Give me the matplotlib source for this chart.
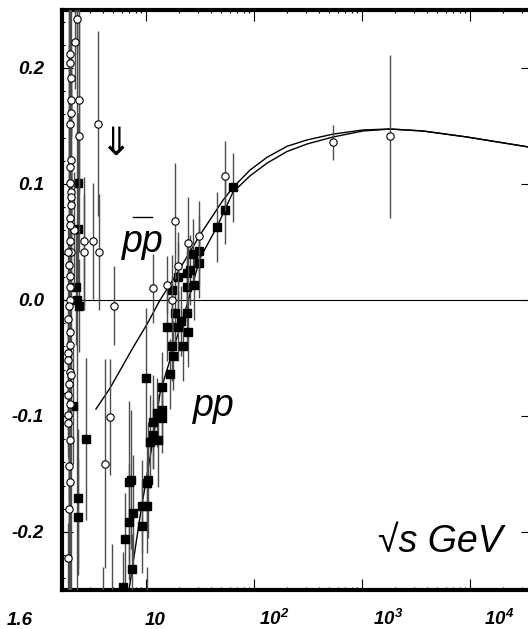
import numpy as np
import matplotlib.pyplot as plt
from matplotlib.ticker import MultipleLocator, LogLocator, NullFormatter
import matplotlib.transforms as mtransforms

plt.rcParams['font.family'] = ['Liberation Sans', 'DejaVu Sans']
plt.rcParams['mathtext.fontset'] = 'custom'
plt.rcParams['mathtext.rm'] = 'Liberation Sans:bold:italic'
plt.rcParams['mathtext.it'] = 'Liberation Sans:bold:italic'
plt.rcParams['mathtext.bf'] = 'Liberation Sans:bold:italic'

# p-bar p data (open circles): sqrt(s) [GeV], rho, error
pbar_x = [2.30, 2.20, 1.98, 1.98, 2.02, 2.40, 2.02, 2.02, 1.98, 2.40,
          2.02, 1.98, 2.02, 2.02, 2.02, 1.98, 2.15, 1.98, 2.02, 1.98,
          1.98, 1.98, 1.94, 1.90, 1.94, 1.90, 1.98, 1.98, 1.90, 1.90,
          1.98, 1.94, 1.90, 1.98, 1.90, 1.90, 1.98, 1.94, 1.98, 1.90,
          1.98, 1.94, 1.96, 2.00,
          2.67, 2.67, 3.23, 3.67, 3.59, 5.06, 4.64, 4.17,
          11.6, 15.5, 17.4, 18.5, 19.8, 24.5, 30.9, 53.8, 536.0, 1820.0]
pbar_y = [0.242, 0.222, 0.212, 0.204, 0.191, 0.172, 0.172, 0.161, 0.152, 0.141,
          0.121, 0.101, 0.093, 0.089, 0.082, 0.071, 0.060, 0.051, 0.041, 0.021,
          0.011, 0.000, 0.030, 0.041, -0.005, -0.016, -0.028, -0.039, -0.046, -0.052,
          -0.062, -0.072, -0.082, -0.090, -0.099, -0.106, -0.121, -0.143, -0.157, -0.222,
          0.115, -0.180, 0.065, -0.065,
          0.051, 0.041, 0.051, 0.041, 0.152, -0.005, -0.101, -0.141,
          0.010, 0.013, 0.000, 0.068, 0.029, 0.049, 0.055, 0.107, 0.136, 0.141]
pbar_err = [0.03, 0.04, 0.03, 0.03, 0.03, 0.08, 0.03, 0.02, 0.40, 0.10,
            0.05, 0.04, 0.03, 0.03, 0.03, 0.03, 0.05, 0.03, 0.03, 0.03,
            0.03, 0.03, 0.40, 0.03, 0.40, 0.03, 0.03, 0.03, 0.03, 0.03,
            0.03, 0.03, 0.03, 0.03, 0.03, 0.03, 0.05, 0.03, 0.03, 0.03,
            0.40, 0.40, 0.40, 0.40,
            0.055, 0.05, 0.05, 0.05, 0.08, 0.034, 0.05, 0.09,
            0.03, 0.025, 0.02, 0.05, 0.03, 0.04, 0.03, 0.03, 0.015, 0.07]

# p p data (filled squares)
pp_x = [2.34, 2.34, 2.25, 2.40, 2.11, 2.78, 2.34, 2.34, 2.30,
        4.00, 4.84, 10.2,
        6.12, 6.39, 6.96, 7.42, 6.96, 7.27, 7.57, 9.18, 10.2, 9.18,
        10.4, 10.2, 10.9, 11.6, 11.6, 12.9, 12.6, 14.1, 14.1, 14.1,
        10.0, 16.7, 17.8, 17.4, 22.0, 15.6, 18.6, 21.1, 24.0, 24.5,
        19.8, 17.4, 19.8, 24.0, 24.0, 25.5, 27.8, 27.2, 31.0, 31.0,
        45.4, 53.8, 63.9]
pp_y = [0.101, 0.061, 0.011, -0.005, -0.091, -0.120, -0.171, -0.187, 0.000,
        -0.300, -0.300, -0.300,
        -0.247, -0.206, -0.191, -0.232, -0.157, -0.155, -0.184, -0.178, -0.178, -0.195,
        -0.155, -0.158, -0.122, -0.105, -0.116, -0.121, -0.097, -0.095, -0.102, -0.075,
        -0.067, -0.064, -0.048, -0.040, -0.040, -0.023, -0.011, -0.018, -0.011, -0.028,
        -0.023, 0.009, 0.020, 0.011, 0.023, 0.026, 0.013, 0.040, 0.042, 0.032,
        0.063, 0.078, 0.097]
pp_err = [0.06, 0.05, 0.05, 0.04, 0.05, 0.07, 0.06, 0.05, 0.40,
          0.07, 0.09, 0.07,
          0.03, 0.04, 0.05, 0.03, 0.07, 0.06, 0.05, 0.04, 0.04, 0.04,
          0.05, 0.04, 0.04, 0.04, 0.03, 0.04, 0.03, 0.03, 0.03, 0.03,
          0.06, 0.03, 0.03, 0.03, 0.03, 0.03, 0.03, 0.03, 0.03, 0.03,
          0.03, 0.03, 0.03, 0.03, 0.03, 0.03, 0.03, 0.03, 0.03, 0.03,
          0.03, 0.03, 0.03]

# fitted curves
fit_pbar_x = [3.44, 4.64, 7.58, 10.2, 13.5, 19.4, 31.6, 51.6, 63.9, 91.8,
              132, 202, 310, 538, 1020, 1820, 3670, 9380, 34400]
fit_pbar_y = [-0.094, -0.076, -0.041, -0.021, 0.0, 0.023, 0.056, 0.086, 0.097,
              0.112, 0.123, 0.1325, 0.138, 0.143, 0.1466, 0.1474, 0.1457, 0.1405, 0.132]
fit_pp_x = [6.96, 9.0, 11.6, 13.5, 17.8, 24.0, 31.6, 45.4, 53.8, 63.9, 91.8,
            132, 202, 310, 538, 1020, 1820, 3670, 9380, 34400]
fit_pp_y = [-0.25, -0.181, -0.121, -0.080, -0.043, -0.004, 0.036, 0.063, 0.078, 0.093,
            0.107, 0.118, 0.128, 0.1345, 0.1405, 0.1457, 0.1474, 0.1457, 0.1405, 0.132]

xtick_vals = [1.668, 10, 100, 1e3, 1e4]
xtick_text = ['1.6', '10', r'$10^{2}$', r'$10^{3}$', r'$10^{4}$']
xtick_shift = [-42, 9, 20, 26, 29]  # label offsets in pixels
ytick_vals = [-0.2, -0.1, 0.0, 0.1, 0.2]
ytick_text = ['-0.2', '-0.1', '0.0', '0.1', '0.2']

W, H = 528, 629
fig = plt.figure(figsize=(W / 100, H / 100), dpi=100)
ax = fig.add_axes([62 / W, 39 / H, (532 - 62) / W, 580 / H])
ax.set_xscale('log')
ax.set_xlim(1.668, 10 ** (1 + (532 - 146) / 108))
ax.set_ylim(-0.25, 0.25)

ax.axhline(0.0, color='black', lw=0.8, zorder=1)
ax.plot(fit_pbar_x, fit_pbar_y, color='black', lw=1.0, zorder=2)
ax.plot(fit_pp_x, fit_pp_y, color='black', lw=1.0, zorder=2)

ax.errorbar(pp_x, pp_y, yerr=pp_err, fmt='s', ms=5.5, mfc='black', mec='black',
            ecolor='0.3', elinewidth=1.0, capsize=0, zorder=3)
ax.errorbar(pbar_x, pbar_y, yerr=pbar_err, fmt='o', ms=5.3, mfc='white', mec='black',
            mew=0.8, ecolor='0.3', elinewidth=1.0, capsize=0, zorder=4)

for s in ax.spines.values():
    s.set_linewidth(3)

ax.xaxis.set_minor_locator(LogLocator(base=10, subs=np.arange(2, 10)))
ax.xaxis.set_minor_formatter(NullFormatter())
ax.set_xticks(xtick_vals)
ax.set_xticklabels(xtick_text)
ax.yaxis.set_minor_locator(MultipleLocator(0.02))
ax.set_yticks(ytick_vals)
ax.set_yticklabels(ytick_text)

ax.tick_params(which='both', direction='in', top=True, right=True, width=0.8)
ax.tick_params(which='major', length=8)
ax.tick_params(which='minor', length=2.5)
ax.tick_params(axis='x', pad=25)
ax.tick_params(axis='y', pad=13)
for lab in ax.get_xticklabels() + ax.get_yticklabels():
    lab.set_fontweight('bold')
    lab.set_fontstyle('italic')
    lab.set_fontsize(13.5)
for lab, dx in zip(ax.get_xticklabels(), xtick_shift):
    lab.set_verticalalignment('baseline')
    lab.set_transform(lab.get_transform() +
                      mtransforms.ScaledTranslation(dx / 100, 0, fig.dpi_scale_trans))

big = 27
ax.text(6.0, 0.041, 'pp', fontsize=big, style='italic', ha='left', va='baseline')
ax.plot([0.150, 0.191], [0.643, 0.643], transform=ax.transAxes, color='black',
        lw=1.0, clip_on=False)
ax.text(27.2, -0.100, 'pp', fontsize=big, style='italic', ha='left', va='baseline')
ax.text(20200, -0.217, '√s GeV', fontsize=27, style='italic', ha='right', va='baseline')
ax.text(5.16, 0.135, '⇓', fontsize=28, family='DejaVu Sans', ha='center', va='center')

fig.savefig('out.png', dpi=100)
